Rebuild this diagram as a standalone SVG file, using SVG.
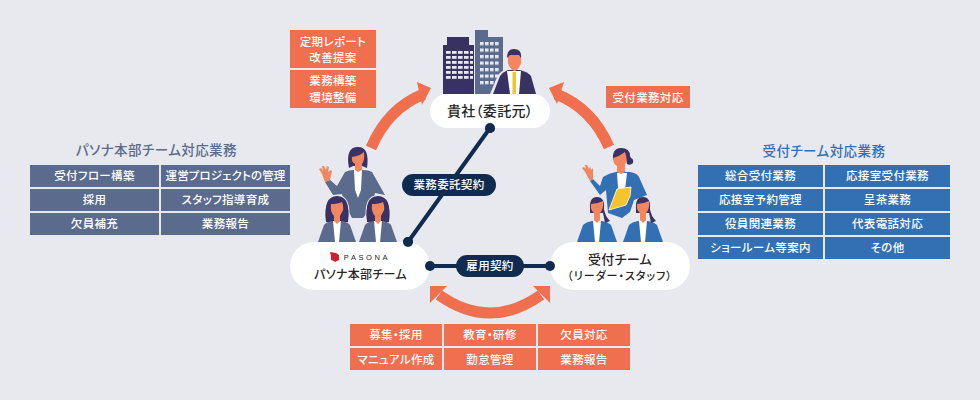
<svg xmlns="http://www.w3.org/2000/svg" width="980" height="400" viewBox="0 0 980 400">
<style>
text{font-family:"Noto Sans CJK JP","Noto Sans",sans-serif;text-anchor:middle;font-feature-settings:"palt"}
.t{font-size:11.5px;font-weight:500;fill:#fff;letter-spacing:.35px}
.h{font-size:13.5px;font-weight:500;letter-spacing:.45px}
.n{font-size:13px;font-weight:500;fill:#262626;letter-spacing:.3px}
.o{fill:#ef6f4f}.s{fill:#5b6b8d}.b{fill:#3370b3}.w{fill:#fff}.d{fill:#0f2c50}
.hair{fill:#3a3264}.skin{fill:#f2865f}
.line{stroke:#0f2c50;stroke-width:4;fill:none}
.arc{stroke:#ef6f4f;stroke-width:11;fill:none}
.halo{stroke:#e8e9ef;stroke-width:2;paint-order:stroke}
</style>
<defs>
<pattern id="winD" x="446" y="51" width="6" height="5" patternUnits="userSpaceOnUse"><rect width="4.6" height="2.8" fill="#e8e9ef"/></pattern>
<pattern id="winL" x="480" y="42" width="5" height="6.500" patternUnits="userSpaceOnUse"><rect width="3.600" height="3.200" fill="#e8e9ef"/></pattern>
<g id="womanSlate">
<path class="halo" d="M-11 14Q-14 -12 0 -12Q14 -12 11 14Z" fill="#3a3264"/>
<path d="M-19 34L-13 17Q-11 14 -5 13L5 13Q11 14 13 17L19 34Z" fill="#5b6b8d"/>
<path d="M-4 13L4 13L2 34L-2 34Z" fill="#fff"/>
<path d="M-11 12Q-13 -11 0 -11Q13 -11 11 12Q9 14 6 12L-6 12Q-9 14 -11 12Z" fill="#3a3264"/>
<path d="M-6 -4Q1 -4 5 -6Q8 1 4 6L3 8V13L0 16L-3 13V8Q-7 4 -6 -4Z" fill="#f2865f"/>
</g>
<g id="womanBlue">
<path d="M-20 35L-14 18Q-11 15 -5 14L5 14Q11 15 14 18L20 35Z" fill="#3370b3"/>
<path d="M-4 14L4 14L2 35L-2 35Z" fill="#fff"/>
<path d="M-7 2Q-8 -10 0 -10Q8 -10 7 2Q8 9 13 14L8 16L6 6H-7Z" fill="#3a3264"/>
<path d="M-6 -3Q0 -3 6 -6Q7 2 3 6V13L0 16L-3 13V6Q-7 3 -6 -3Z" fill="#f2865f"/>
</g>
</defs>
<rect width="980" height="400" fill="#e8e9ef"/>

<g id="arrows">
<path class="arc" d="M371 148Q388 108 424 94"/>
<polygon class="o" points="431,88 417,82 422,105"/>
<path class="arc" d="M609 147Q592 108 556 94"/>
<polygon class="o" points="549,88 564,82 557,104"/>
<path class="arc" d="M439 295Q490 331 541 295"/>
<polygon class="o" points="430,286 430,303 447,286"/>
<polygon class="o" points="550,286 550,303 533,286"/>
</g>

<g id="client-figure">
<path fill="#373261" d="M447 45V37H469V45H474V94H443V45Z"/>
<rect x="446" y="51" width="27" height="30" fill="url(#winD)"/>
<path fill="#5b6b8d" d="M475 30H488V37H503V94H475Z"/>
<rect x="480" y="42" width="20" height="44" fill="url(#winL)"/>
<path fill="#e8e9ef" d="M490 94L498 75Q501 71 507 69H521Q530 71 533 76L538 94Z"/>
<path fill="#373261" d="M493 94L500 76Q503 72 508 70H520Q528 72 531 76L536 94Z"/>
<path fill="#fff" d="M507 71H521L519 94H510Z"/>
<rect x="512.500" y="72" width="3.500" height="22" fill="#f5c32c"/>
<path class="skin" d="M508 55H521V63Q520 68 515 71H514Q509 68 508 63Z"/>
<path class="hair" d="M507 58Q507 49 514 49Q522 49 521 58L519 55H510Z"/>
</g>
<g id="pasona-figures">
<path class="s" d="M345 172Q349 170 354 170H363Q369 170 372 172L385 195L375 193L373 205L363 218H352L344 203L342 194L333 195L325 182L330 180L337 186Z"/>
<path class="w" d="M354 170H362L361 190L358 198L355 190Z"/>
<path class="hair" d="M349 168Q345 147 358 147Q370 147 367 168L362 166H353Z"/>
<path class="skin" d="M352 157Q360 156 364 152Q365 160 362 164V170L358 172L355 170V164Q351 162 352 157Z"/>
<path class="skin" d="M325 182L322 174L319 169L321 168L323 171L322 166L324 166L326 170L327 166L329 167L328 172L331 170L332 171L330 180Z"/>
<use href="#womanSlate" x="337" y="208"/>
<use href="#womanSlate" x="378" y="208"/>
</g>
<g id="reception-figures">
<path class="b" d="M603 177Q609 173 616 172H630Q637 173 639 177L647 195L634 200L630 212L622 218L608 213L606 190L600 195L590 181L593 179L600 186Z"/>
<path class="w" d="M617 173H627L625 190L620 197L618 188Z"/>
<path class="hair" d="M613 160Q612 148 621 148Q630 148 630 156L631 158Q634 159 633 163Q630 166 627 164L626 158H616Z"/>
<path class="skin" d="M613 158Q620 156 625 152Q628 160 625 165V172L621 174L617 172V166Q613 164 613 158Z"/>
<path class="skin" d="M590 181L585 172L582 168L584 167L586 169L585 165L587 165L589 169L590 166L591 170L593 168L593 172L593 179Z"/>
<path d="M617 189L631 187L630 196L626 205L609 210Z" fill="#f5c32c" stroke="#f7f0d2" stroke-width="1"/>
<use href="#womanBlue" x="597" y="207"/>
<use href="#womanBlue" x="643" y="207"/>
</g>

<g id="connectors">
<line class="line" x1="490" y1="128" x2="408" y2="242"/>
<circle class="d" cx="490" cy="128" r="5"/>
<circle class="d" cx="408" cy="242" r="5"/>
<line class="line" x1="430" y1="266" x2="550" y2="266"/>
</g>

<g id="node-client">
<rect class="w" x="430" y="94" width="120" height="34" rx="17"/>
<text class="n" x="490" y="116" style="font-size:14px">貴社（委託元）</text>
<circle class="d" cx="490" cy="128" r="5"/>
</g>
<g id="node-pasona">
<rect class="w" x="290" y="242" width="140" height="48" rx="24"/>
<path d="M330 252L336 253L339 255V260L335 262L334 261L331 260L331 256Z" fill="#cf1f2b"/>
<text x="367" y="260" style="font-family:'Liberation Sans',sans-serif;font-size:7.500px;letter-spacing:2.600px;fill:#262626">PASONA</text>
<text class="n" x="360.500" y="279" style="font-size:12px">パソナ本部チーム</text>
<circle class="d" cx="408" cy="242" r="5"/>
<circle class="d" cx="430" cy="266" r="5"/>
</g>
<g id="node-reception">
<rect class="w" x="550" y="242" width="140" height="48" rx="24"/>
<text class="n" x="620" y="264">受付チーム</text>
<text class="n" x="620" y="280" style="font-size:11px;letter-spacing:1px">（リーダー・スタッフ）</text>
<circle class="d" cx="550" cy="266" r="5"/>
</g>
<g id="label-contract">
<rect class="d" x="402" y="174" width="94" height="22" rx="11"/>
<text class="t" x="449" y="189">業務委託契約</text>
</g>
<g id="label-employ">
<rect class="d" x="456" y="255" width="68" height="22" rx="11"/>
<text class="t" x="490" y="270">雇用契約</text>
</g>

<g id="tasks-client-left">
<rect class="o" x="290" y="30" width="86" height="38"/>
<text class="t" x="333" y="46">定期レポート</text><text class="t" x="333" y="62">改善提案</text>
<rect class="o" x="290" y="70" width="86" height="38"/>
<text class="t" x="333" y="85">業務構築</text><text class="t" x="333" y="102">環境整備</text>
</g>
<g id="tasks-client-right">
<rect class="o" x="606" y="86" width="84" height="22"/>
<text class="t" x="648" y="102">受付業務対応</text>
</g>

<g id="tasks-pasona">
<text class="h" x="156.500" y="155" fill="#5b6b8d">パソナ本部チーム対応業務</text>
<rect class="s" x="30" y="165" width="129" height="22"/><text class="t" x="94.500" y="180">受付フロー構築</text>
<rect class="s" x="161" y="165" width="129" height="22"/><text class="t" x="225.500" y="180" style="letter-spacing:.1px">運営プロジェクトの管理</text>
<rect class="s" x="30" y="189" width="129" height="22"/><text class="t" x="94.500" y="204">採用</text>
<rect class="s" x="161" y="189" width="129" height="22"/><text class="t" x="225.500" y="204">スタッフ指導育成</text>
<rect class="s" x="30" y="213" width="129" height="22"/><text class="t" x="94.500" y="228">欠員補充</text>
<rect class="s" x="161" y="213" width="129" height="22"/><text class="t" x="225.500" y="228">業務報告</text>
</g>

<g id="tasks-reception">
<text class="h" x="824" y="156" fill="#3370b3">受付チーム対応業務</text>
<rect class="b" x="698" y="165" width="125" height="22"/><text class="t" x="760.500" y="180">総合受付業務</text>
<rect class="b" x="825" y="165" width="125" height="22"/><text class="t" x="887.500" y="180">応接室受付業務</text>
<rect class="b" x="698" y="189" width="125" height="22"/><text class="t" x="760.500" y="204">応接室予約管理</text>
<rect class="b" x="825" y="189" width="125" height="22"/><text class="t" x="887.500" y="204">呈茶業務</text>
<rect class="b" x="698" y="213" width="125" height="22"/><text class="t" x="760.500" y="228">役員関連業務</text>
<rect class="b" x="825" y="213" width="125" height="22"/><text class="t" x="887.500" y="228">代表電話対応</text>
<rect class="b" x="698" y="237" width="125" height="22"/><text class="t" x="760.500" y="252">ショールーム等案内</text>
<rect class="b" x="825" y="237" width="125" height="22"/><text class="t" x="887.500" y="252">その他</text>
</g>

<g id="tasks-employ">
<rect class="o" x="350" y="324" width="92" height="22"/><text class="t" x="396" y="339">募集・採用</text>
<rect class="o" x="444" y="324" width="92" height="22"/><text class="t" x="490" y="339">教育・研修</text>
<rect class="o" x="538" y="324" width="92" height="22"/><text class="t" x="584" y="339">欠員対応</text>
<rect class="o" x="350" y="348" width="92" height="22"/><text class="t" x="396" y="364">マニュアル作成</text>
<rect class="o" x="444" y="348" width="92" height="22"/><text class="t" x="490" y="364">勤怠管理</text>
<rect class="o" x="538" y="348" width="92" height="22"/><text class="t" x="584" y="364">業務報告</text>
</g>
</svg>
